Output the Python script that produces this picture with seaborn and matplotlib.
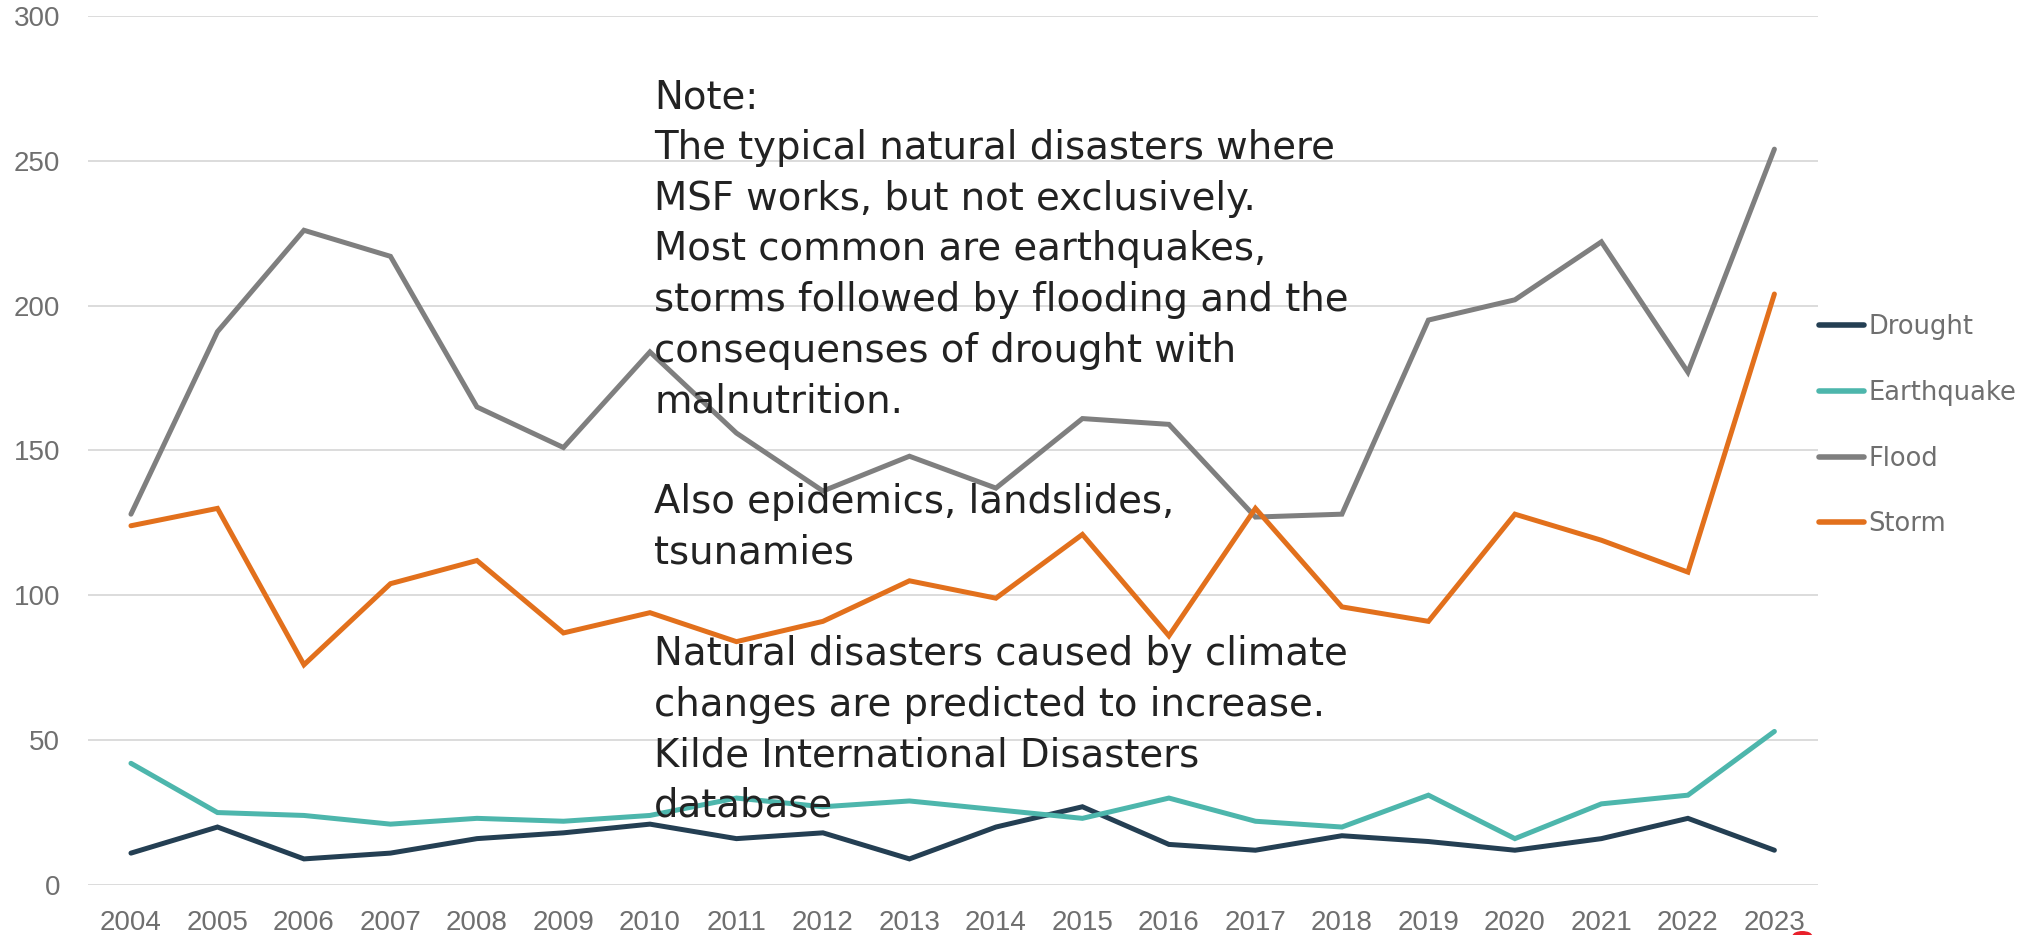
import pandas as pd
import matplotlib
matplotlib.use("Agg")
from matplotlib import pyplot as plt
from matplotlib.lines import Line2D
import seaborn as sns

years = [str(y) for y in range(2004, 2024)]
drought = [11, 20, 9, 11, 16, 18, 21, 16, 18, 9, 20, 27, 14, 12, 17, 15, 12, 16, 23, 12]
earthquake = [42, 25, 24, 21, 23, 22, 24, 30, 27, 29, 26, 23, 30, 22, 20, 31, 16, 28, 31, 53]
flood = [128, 191, 226, 217, 165, 151, 184, 156, 136, 148, 137, 161, 159, 127, 128, 195, 202, 222, 177, 254]
storm = [124, 130, 76, 104, 112, 87, 94, 84, 91, 105, 99, 121, 86, 130, 96, 91, 128, 119, 108, 204]

series_names = ['Drought', 'Earthquake', 'Flood', 'Storm']
colors = ['#243f53', '#4db6ac', '#7f7f7f', '#e2701c']

note = ("Note:\n"
        "The typical natural disasters where\n"
        "MSF works, but not exclusively.\n"
        "Most common are earthquakes,\n"
        "storms followed by flooding and the\n"
        "consequenses of drought with\n"
        "malnutrition.\n"
        "\n"
        "Also epidemics, landslides,\n"
        "tsunamies\n"
        "\n"
        "Natural disasters caused by climate\n"
        "changes are predicted to increase.\n"
        "Kilde International Disasters\n"
        "database")

# long format for seaborn
rows = []
for name, vals in zip(series_names, [drought, earthquake, flood, storm]):
    for yr, v in zip(years, vals):
        rows.append({'Year': yr, 'Count': v, 'Type': name})
df = pd.DataFrame(rows)

sns.set_style("white")
plt.rcParams['font.family'] = ['Liberation Sans', 'DejaVu Sans']

fig = plt.figure(figsize=(20.4, 9.35), dpi=100)
ax = fig.add_axes([0.043, 0.0535, 0.848, 0.9295])

sns.lineplot(data=df, x='Year', y='Count', hue='Type', palette=colors,
             linewidth=3.6, sort=False, ax=ax, legend=False,
             solid_capstyle='round', solid_joinstyle='miter')

ax.set_xlim(-0.5, len(years) - 0.5)
ax.set_ylim(0, 300)
ax.set_yticks(range(0, 301, 50))
ax.grid(axis='y', color='#d9d9d9', linewidth=1.3)
ax.set_axisbelow(True)
for s in ax.spines.values():
    s.set_visible(False)
ax.set_xlabel('')
ax.set_ylabel('')
ax.tick_params(axis='both', length=0, labelsize=20, labelcolor='#6f6f6f')
ax.tick_params(axis='y', pad=20)
ax.tick_params(axis='x', pad=18)

# legend on the right
handles = [Line2D([0], [0], color=c, linewidth=4, solid_capstyle='round') for c in colors]
fig.legend(handles, series_names, loc='upper left', bbox_to_anchor=(0.8855, 0.678),
           bbox_transform=fig.transFigure, frameon=False, borderpad=0,
           labelcolor='#6f6f6f', handlelength=1.75, handletextpad=0.15,
           labelspacing=1.55, prop={'family': 'DejaVu Sans', 'size': 18.5})

ax.text(0.3206, 0.916, note, transform=fig.transFigure, ha='left', va='top',
        fontsize=27.8, color='#222222', family='DejaVu Sans', linespacing=1.42)

# small red marker at the bottom edge
fig.patches.append(plt.Circle((0.8835, -0.001), 0.0045, transform=fig.transFigure,
                              color='#e8202a', clip_on=False))

fig.savefig('out.png', dpi=100)
